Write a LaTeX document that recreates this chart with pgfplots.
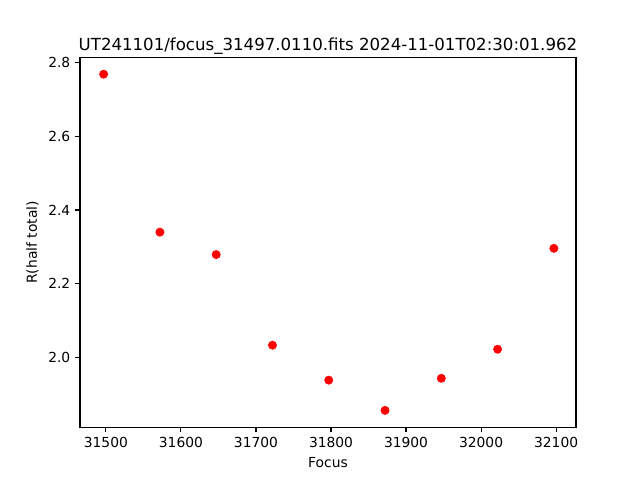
\documentclass[border=0pt]{standalone}
\usepackage{pgfplots}
\pgfplotsset{compat=1.18}
\usepackage{fontspec}
\setmainfont{DejaVu Sans}
\begin{document}
\begin{tikzpicture}
\useasboundingbox (0,0) rectangle (6.4in,4.8in);
\begin{axis}[
  at={(0.8in,0.527in)}, anchor=south west,
  scale only axis, width=4.96in, height=3.697in,
  xmin=31465.5, xmax=32126.5,
  ymin=1.810, ymax=2.814,
  scaled ticks=false,
  xtick={31500,31600,31700,31800,31900,32000,32100},
  ytick={2.0,2.2,2.4,2.6,2.8},
  /pgf/number format/assume math mode=true,
  x tick label style={/pgf/number format/.cd,fixed,1000 sep={}},
  y tick label style={/pgf/number format/.cd,fixed,fixed zerofill,precision=1},
  tick align=outside, tick pos=lower,
  major tick length=3.5pt,
  every tick/.style={black, line width=0.8pt},
  axis line style={line width=0.8pt},
  ticklabel style={font=\fontsize{10pt}{12pt}\selectfont},
  label style={font=\fontsize{10pt}{12pt}\selectfont},
  title style={font=\fontsize{12pt}{14pt}\selectfont, yshift=-7pt},
  title={UT241101/focus\_31497.0110.fits 2024-11-01T02:30:01.962},
  xlabel={Focus}, ylabel={R(half total)},
]
\addplot[only marks, mark=*, mark size=3pt, color=red, mark options={draw=red, fill=red}] coordinates {
(31497,2.769) (31572,2.340) (31647,2.279) (31722,2.033) (31797,1.938)
(31872,1.856) (31947,1.943) (32022,2.022) (32097,2.296)
};
\end{axis}
\end{tikzpicture}
\end{document}
